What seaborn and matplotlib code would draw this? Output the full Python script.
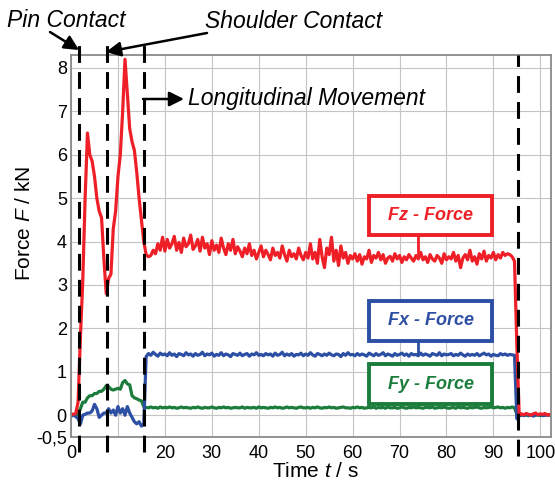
import numpy as np
import pandas as pd
import matplotlib
matplotlib.use('Agg')
import matplotlib.pyplot as plt
import seaborn as sns

# sampled every 0.5 s from 0 to 102 s
time = np.arange(0, 102.5, 0.5)

fz = [
    # start-up: pin plunge and shoulder contact
    0.03, 0.02, 0.04, 0.3, 1.8, 3.1, 5.0, 6.5, 6.0, 5.85, 5.5, 5.0, 4.7, 4.55, 3.6, 2.8,
    3.15, 3.25, 4.3, 4.7, 5.5, 6.0, 7.0, 8.2, 7.4, 6.6, 6.3, 6.1, 5.6, 5.0, 4.5, 4.0,
    # longitudinal movement
    3.7, 3.65, 3.68, 3.8, 3.72, 3.95, 3.8, 4.1, 3.78, 4.05,
    3.85, 3.95, 4.12, 3.8, 3.98, 3.75, 4.08, 3.88, 3.95, 4.15,
    3.82, 3.9, 4.05, 3.78, 4.1, 3.85, 3.95, 3.7, 4.02, 3.8,
    3.92, 3.75, 4.08, 3.85, 3.7, 3.95, 3.8, 4.05, 3.72, 3.88,
    3.78, 3.65, 3.85, 3.72, 3.95, 3.68, 3.8, 3.6, 3.75, 3.9,
    3.65, 3.8, 3.7, 3.58, 3.85, 3.68, 3.75, 3.62, 3.9, 3.7,
    3.55, 3.8, 3.65, 3.72, 3.6, 3.85, 3.68, 3.58, 3.75, 3.62,
    3.95, 3.6, 3.75, 3.5, 4.05, 3.65, 3.4, 3.85, 3.7, 4.1,
    3.55, 3.8, 3.45, 3.9, 3.62, 3.75, 3.5, 3.68, 3.6, 3.72,
    3.55, 3.7, 3.48, 3.65, 3.6, 3.8, 3.52, 3.68, 3.62, 3.75,
    3.58, 3.7, 3.5, 3.62, 3.66, 3.55, 3.72, 3.6, 3.68, 3.52,
    3.65, 3.58, 3.7, 3.62, 3.55, 3.68, 3.6, 3.75, 3.58, 3.65,
    3.52, 3.7, 3.6, 3.55, 3.68, 3.62, 3.5, 3.72, 3.58, 3.65,
    3.6, 3.75, 3.55, 3.68, 3.4, 3.62, 3.7, 3.58, 3.8, 3.55,
    3.65, 3.48, 3.72, 3.6, 3.78, 3.55, 3.68, 3.62, 3.75, 3.58,
    3.7, 3.62, 3.75, 3.68, 3.72, 3.7, 3.65, 3.55,
    # tool retracted
    1.6, 0.0,
    0.03, 0.01, 0.04, 0.02, 0.0, 0.03, 0.05, 0.01, 0.03, 0.02, 0.04, 0.0, 0.02,
]

fx = [
    -0.02, 0.0, -0.03, -0.08, -0.2, 0.0, 0.02, 0.05, 0.05, 0.1, 0.25, 0.15, -0.05, 0.0, 0.05, 0.05,
    0.15, 0.05, 0.12, 0.0, 0.2, 0.05, 0.15, 0.0, 0.2, 0.05, -0.05, -0.15, -0.2, -0.15, -0.25, -0.2,
    1.35, 1.42, 1.38, 1.45, 1.4, 1.36, 1.43, 1.39, 1.41, 1.37,
    1.44, 1.38, 1.41, 1.35, 1.42, 1.4, 1.37, 1.44, 1.39, 1.41,
    1.36, 1.42, 1.38, 1.4, 1.45, 1.37, 1.41, 1.39, 1.43, 1.36,
    1.4, 1.38, 1.44, 1.37, 1.41, 1.39, 1.35, 1.42, 1.4, 1.38,
    1.43, 1.37, 1.4, 1.42, 1.36, 1.41, 1.39, 1.44, 1.38, 1.4,
    1.37, 1.42, 1.39, 1.41, 1.36, 1.43, 1.38, 1.4, 1.45, 1.37,
    1.41, 1.38, 1.42, 1.36, 1.4, 1.39, 1.43, 1.37, 1.41, 1.38,
    1.44, 1.39, 1.36, 1.42, 1.4, 1.37, 1.41, 1.38, 1.43, 1.39,
    1.37, 1.41, 1.4, 1.35, 1.42, 1.38, 1.44, 1.39, 1.4, 1.37,
    1.42, 1.38, 1.41, 1.39, 1.36, 1.43, 1.4, 1.37, 1.42, 1.38,
    1.4, 1.44, 1.37, 1.41, 1.39, 1.36, 1.42, 1.38, 1.4, 1.43,
    1.38, 1.41, 1.36, 1.42, 1.39, 1.4, 1.37, 1.43, 1.38, 1.41,
    1.39, 1.36, 1.42, 1.4, 1.38, 1.44, 1.37, 1.41, 1.39, 1.4,
    1.42, 1.37, 1.4, 1.38, 1.43, 1.39, 1.36, 1.41, 1.38, 1.4,
    1.38, 1.42, 1.37, 1.4, 1.43, 1.39, 1.41, 1.36, 1.4, 1.38,
    1.37, 1.42, 1.39, 1.41, 1.38, 1.4, 1.39, 1.38,
    -0.08, 0.0,
    0.01, -0.01, 0.02, 0.0, 0.01, -0.02, 0.0, 0.01, 0.02, -0.01, 0.0, 0.01, 0.0,
]

fy = [
    0.02, 0.0, 0.01, 0.03, 0.15, 0.3, 0.3, 0.4, 0.45, 0.45, 0.5, 0.5, 0.55, 0.55, 0.6, 0.68,
    0.66, 0.6, 0.58, 0.6, 0.62, 0.6, 0.75, 0.8, 0.72, 0.7, 0.45, 0.4, 0.38, 0.35, 0.33, 0.2,
    0.18, 0.17, 0.19, 0.17, 0.18, 0.16, 0.19, 0.17, 0.18, 0.17,
    0.19, 0.17, 0.18, 0.16, 0.17, 0.19, 0.17, 0.18, 0.17, 0.16,
    0.18, 0.17, 0.19, 0.17, 0.16, 0.18, 0.17, 0.17, 0.19, 0.17,
    0.16, 0.18, 0.17, 0.19, 0.17, 0.18, 0.16, 0.17, 0.18, 0.17,
    0.17, 0.19, 0.16, 0.18, 0.17, 0.17, 0.18, 0.16, 0.19, 0.17,
    0.18, 0.17, 0.16, 0.18, 0.17, 0.19, 0.17, 0.18, 0.16, 0.17,
    0.19, 0.17, 0.18, 0.17, 0.16, 0.18, 0.19, 0.17, 0.17, 0.18,
    0.16, 0.18, 0.17, 0.19, 0.17, 0.16, 0.18, 0.17, 0.19, 0.17,
    0.18, 0.16, 0.17, 0.18, 0.19, 0.17, 0.17, 0.16, 0.18, 0.17,
    0.19, 0.17, 0.18, 0.16, 0.17, 0.18, 0.17, 0.19, 0.16, 0.18,
    0.17, 0.18, 0.16, 0.19, 0.17, 0.17, 0.18, 0.16, 0.17, 0.19,
    0.17, 0.16, 0.18, 0.17, 0.19, 0.17, 0.18, 0.17, 0.16, 0.18,
    0.18, 0.17, 0.19, 0.16, 0.17, 0.18, 0.17, 0.19, 0.17, 0.16,
    0.17, 0.18, 0.16, 0.19, 0.17, 0.18, 0.17, 0.16, 0.18, 0.17,
    0.18, 0.19, 0.17, 0.16, 0.18, 0.17, 0.18, 0.19, 0.17, 0.18,
    0.19, 0.17, 0.18, 0.16, 0.18, 0.17, 0.19, 0.17,
    0.02, -0.02,
    0.0, 0.01, 0.0, -0.01, 0.01, 0.0, 0.02, 0.0, -0.01, 0.01, 0.0, 0.01, 0.0,
]

components = ['Fy', 'Fx', 'Fz']
colors = {'Fz': '#ee1f26', 'Fx': '#2c4fa3', 'Fy': '#1b7c3c'}
phase_times = [1.75, 7.65, 15.45, 95.3]
xtick_values = [0, 10, 20, 30, 40, 50, 60, 70, 80, 90, 100]
xtick_labels = ['0', '', '20', '30', '40', '50', '60', '70', '80', '90', '100']
ytick_values = [-0.5, 0, 1, 2, 3, 4, 5, 6, 7, 8]
ytick_labels = ['-0,5', '0', '1', '2', '3', '4', '5', '6', '7', '8']

df = pd.concat([
    pd.DataFrame({'time': time, 'force': fy, 'component': 'Fy'}),
    pd.DataFrame({'time': time, 'force': fx, 'component': 'Fx'}),
    pd.DataFrame({'time': time, 'force': fz, 'component': 'Fz'}),
])

sns.set_theme(style='whitegrid')
plt.rcParams['font.family'] = ['Liberation Sans', 'DejaVu Sans']
plt.rcParams['text.color'] = 'black'
plt.rcParams['axes.labelcolor'] = 'black'
plt.rcParams['mathtext.fontset'] = 'custom'
plt.rcParams['mathtext.rm'] = 'Liberation Sans'
plt.rcParams['mathtext.it'] = 'Liberation Sans:italic'

fig = plt.figure(figsize=(5.55, 4.86), dpi=100)
ax = fig.add_axes([0.128, 0.101, 0.865, 0.786])

sns.lineplot(data=df, x='time', y='force', hue='component', hue_order=components,
             palette=colors, linewidth=2.3, legend=False, estimator=None, sort=False, ax=ax)

ax.set_xlim(0, 102.3)
ax.set_ylim(-0.5, 8.3)
ax.set_xticks(xtick_values)
ax.set_xticklabels(xtick_labels)
ax.set_yticks(ytick_values)
ax.set_yticklabels(ytick_labels)
ax.tick_params(labelsize=13, length=0, colors='black')
ax.tick_params(axis='x', pad=6)
ax.tick_params(axis='y', pad=3)
ax.grid(True, color='#c4c4c4', linewidth=0.8)
for s in ax.spines.values():
    s.set_color('#8a8a8a')
    s.set_linewidth(1.3)

ax.set_xlabel('Time $\\mathit{t}$ / s', fontsize=15)
ax.set_ylabel('Force $\\mathit{F}$ / kN', fontsize=15)
ax.xaxis.set_label_coords(0.51, -0.065)
ax.yaxis.set_label_coords(-0.078, 0.56)

# phase markers
for i, tp in enumerate(phase_times):
    top = 8.58 if i < 3 else 8.3
    ax.plot([tp, tp], [-0.85 if i < 3 else -0.95, top], color='black', lw=2.2,
            dashes=(5.5, 3), clip_on=False, zorder=5)

# labelled boxes
boxes = [('Fz - Force', 'Fz', 4.14, 5.06, 3.65),
         ('Fx - Force', 'Fx', 1.72, 2.64, 1.42),
         ('Fy - Force', 'Fy', 0.25, 1.17, 0.18)]
for label, key, y0, y1, ycurve in boxes:
    c = colors[key]
    ax.add_patch(plt.Rectangle((63.4, y0), 26.4, y1 - y0, facecolor='white',
                               edgecolor=c, linewidth=2.8, zorder=6))
    ax.plot([74.0, 74.0], [y0, ycurve], color=c, lw=2.0, zorder=6)
    ax.text(76.6, (y0 + y1) / 2, label, color=c, fontsize=13, fontweight='bold',
            fontstyle='italic', ha='center', va='center', zorder=7)

# phase annotations (figure pixels)
arrow = dict(arrowstyle='-|>', color='black', lw=1.8, mutation_scale=22, shrinkA=0, shrinkB=0)
fig.text(7, 459, 'Pin Contact', transform=None, fontsize=16.5, fontstyle='italic',
         ha='left', va='baseline')
ax.annotate('', xy=(79, 436), xycoords='figure pixels', xytext=(50, 454),
            textcoords='figure pixels', arrowprops=arrow, annotation_clip=False)
fig.text(205, 458, 'Shoulder Contact', transform=None, fontsize=16.5, fontstyle='italic',
         ha='left', va='baseline')
ax.annotate('', xy=(106, 434), xycoords='figure pixels', xytext=(207, 453),
            textcoords='figure pixels', arrowprops=arrow, annotation_clip=False)
fig.text(188, 381, 'Longitudinal Movement', transform=None, fontsize=16.5,
         fontstyle='italic', ha='left', va='baseline')
ax.annotate('', xy=(184, 387), xycoords='figure pixels', xytext=(143, 387),
            textcoords='figure pixels', arrowprops=arrow, annotation_clip=False)

fig.savefig('out.png', dpi=100)
